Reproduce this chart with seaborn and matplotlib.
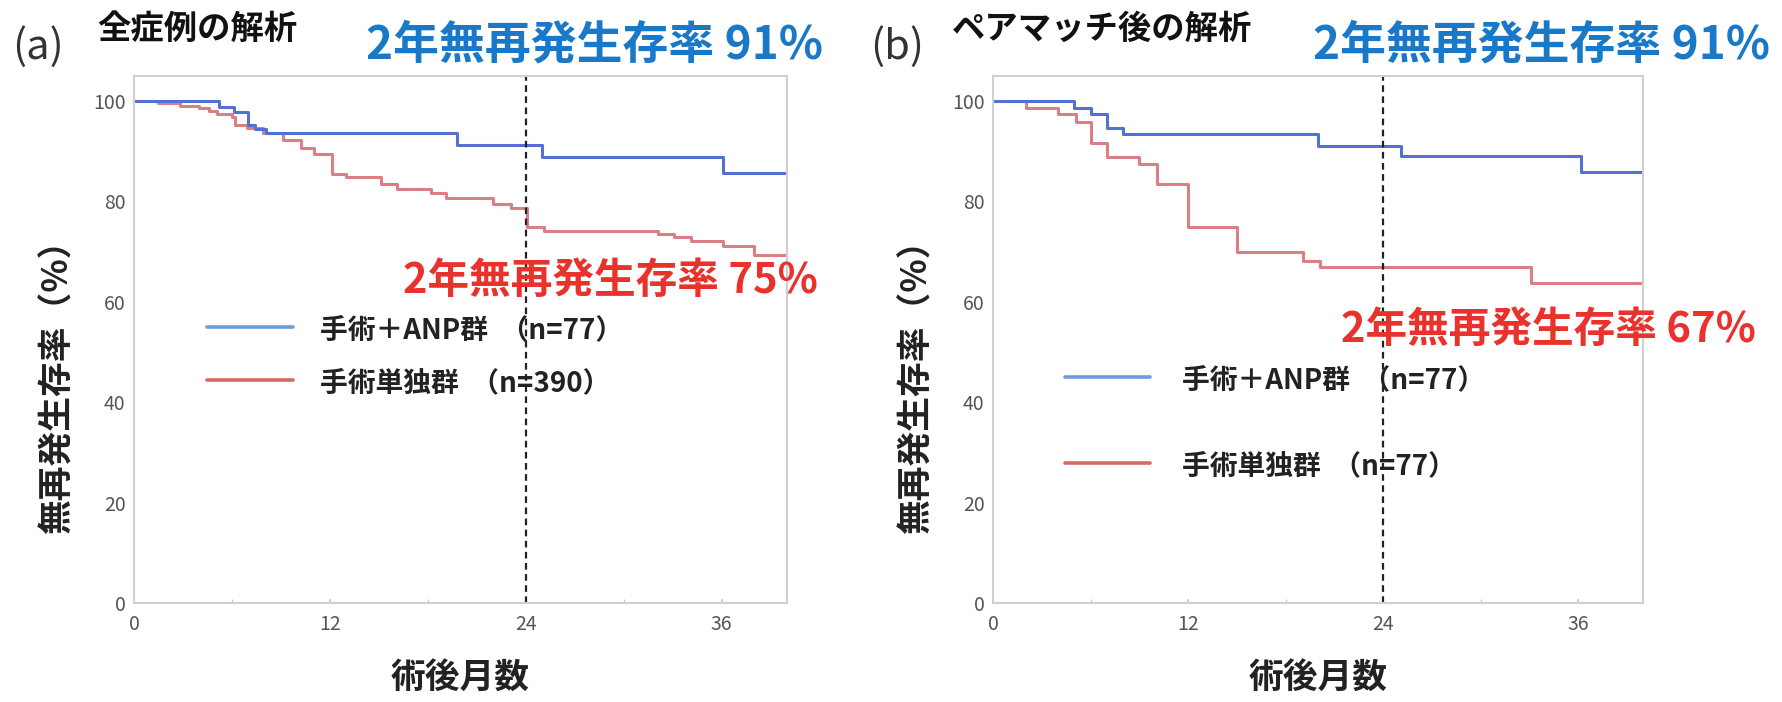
import matplotlib
matplotlib.use("Agg")
import matplotlib.pyplot as plt
import seaborn as sns
import pandas as pd

# Kaplan-Meier step data (months after surgery, relapse-free survival %)
t_a_anp = [0, 5.2, 6.1, 7.0, 7.4, 8.1, 19.8, 25.0, 36.1, 40]
s_a_anp = [100, 98.8, 97.8, 95.3, 94.5, 93.6, 91.2, 88.9, 85.7, 85.7]

t_a_ctl = [0, 1.5, 2.8, 4.0, 4.6, 5.1, 6.0, 6.2, 6.9, 7.9, 9.1, 10.2, 11.0, 12.1,
           13.0, 15.1, 16.1, 18.2, 19.1, 22.0, 23.1, 24.05, 25.1, 32.1, 33.1,
           34.1, 36.1, 38.0, 40]
s_a_ctl = [100, 99.6, 99.0, 98.6, 98.0, 97.4, 96.8, 95.3, 94.6, 93.6, 92.3, 90.6,
           89.5, 85.5, 84.8, 83.5, 82.5, 81.6, 80.7, 79.5, 78.7, 75.0, 74.2, 73.6,
           73.0, 72.1, 71.2, 69.3, 69.3]

t_b_anp = [0, 5.0, 6.0, 7.0, 8.0, 20.0, 25.1, 36.2, 40]
s_b_anp = [100, 98.7, 97.4, 94.6, 93.4, 91.0, 89.1, 85.9, 85.9]

t_b_ctl = [0, 2.0, 4.0, 5.1, 6.0, 7.0, 9.0, 10.1, 12.0, 15.0, 19.1, 20.1, 33.1, 40]
s_b_ctl = [100, 98.7, 97.4, 95.8, 91.6, 88.9, 87.5, 83.5, 75.0, 70.0, 68.2, 67.0,
           63.8, 63.8]

x_ticks = [0, 12, 24, 36]
y_ticks = [0, 20, 40, 60, 80, 100]

panel_tags = ["(a)", "(b)"]
panel_titles = ["全症例の解析", "ペアマッチ後の解析"]
anp_rate = "2年無再発生存率 91%"
ctl_rates = ["2年無再発生存率 75%", "2年無再発生存率 67%"]
anp_labels = ["手術＋ANP群  （n=77）", "手術＋ANP群  （n=77）"]
ctl_labels = ["手術単独群  （n=390）", "手術単独群  （n=77）"]
y_label = "無再発生存率（%）"
x_label = "術後月数"

sns.set_theme(style="white")
plt.rcParams["font.family"] = ["Noto Sans CJK JP", "DejaVu Sans"]

W, H = 1782, 702
fig = plt.figure(figsize=(W / 100, H / 100), dpi=100)


def fx(px):
    return px / W


def fy(py):
    return 1 - py / H


BLUE_LINE = "#5470d4"
RED_LINE = "#da7f84"
BLUE_TEXT = "#1a78c8"
RED_TEXT = "#e8322b"

panels = [
    dict(left=134, right=787, anp=(t_a_anp, s_a_anp), ctl=(t_a_ctl, s_a_ctl),
         tag_x=12, title_x=97, rate_x=366, ctl_rate=(403, 281),
         leg_x=(207, 293, 320), leg_y=(330, 383), ylab_x=57),
    dict(left=993, right=1643, anp=(t_b_anp, s_b_anp), ctl=(t_b_ctl, s_b_ctl),
         tag_x=870, title_x=952, rate_x=1313, ctl_rate=(1341, 330),
         leg_x=(1065, 1150, 1182), leg_y=(380, 466), ylab_x=916),
]

top, bottom = 76, 603

for i, p in enumerate(panels):
    ax = fig.add_axes([fx(p["left"]), fy(bottom), fx(p["right"] - p["left"]),
                       (bottom - top) / H])
    df_anp = pd.DataFrame({"month": p["anp"][0], "rfs": p["anp"][1]})
    df_ctl = pd.DataFrame({"month": p["ctl"][0], "rfs": p["ctl"][1]})
    sns.lineplot(data=df_ctl, x="month", y="rfs", ax=ax, color=RED_LINE,
                 drawstyle="steps-post", estimator=None, sort=False, linewidth=2.2)
    sns.lineplot(data=df_anp, x="month", y="rfs", ax=ax, color=BLUE_LINE,
                 drawstyle="steps-post", estimator=None, sort=False, linewidth=2.2)
    ax.axvline(24, color="#222222", linestyle=(0, (3, 2)), linewidth=1.6)

    ax.set_xlim(0, 40)
    ax.set_ylim(0, 105)
    ax.set_xticks(x_ticks)
    ax.set_xticks([6, 18, 30], minor=True)
    ax.set_yticks(y_ticks)
    ax.set_xlabel("")
    ax.set_ylabel("")
    ax.tick_params(axis="both", labelsize=14, labelcolor="#555555")
    ax.tick_params(axis="x", which="both", bottom=True, length=3, color="#cccccc",
                   direction="in", pad=8)
    ax.tick_params(axis="y", length=0, pad=6)
    for s in ax.spines.values():
        s.set_color("#d0d0d0")
        s.set_linewidth(1.5)

    # axis titles
    cx = (p["left"] + p["right"]) / 2
    fig.text(fx(cx), fy(678), x_label, fontsize=25, fontweight="bold",
             ha="center", va="center", color="#222222")
    fig.text(fx(p["ylab_x"]), fy(378), y_label, fontsize=25,
             fontweight="bold", rotation=90, ha="center", va="center",
             color="#222222")

    # header
    fig.text(fx(p["tag_x"]), fy(47), panel_tags[i], fontsize=30, ha="left",
             va="center", color="#333333")
    fig.text(fx(p["title_x"]), fy(29), panel_titles[i], fontsize=24,
             fontweight="bold", ha="left", va="center", color="#111111")
    fig.text(fx(p["rate_x"]), fy(45), anp_rate, fontsize=33, fontweight="bold",
             ha="left", va="center", color=BLUE_TEXT)

    # control-group rate annotation
    fig.text(fx(p["ctl_rate"][0]), fy(p["ctl_rate"][1]), ctl_rates[i], fontsize=30,
             fontweight="bold", ha="left", va="center", color=RED_TEXT)

    # legend drawn as lines plus labels
    lx0, lx1, tx = p["leg_x"]
    for yy, col, lab in [(p["leg_y"][0], "#6c9be0", anp_labels[i]),
                         (p["leg_y"][1], "#d46a66", ctl_labels[i])]:
        fig.add_artist(plt.Line2D([fx(lx0), fx(lx1)], [fy(yy - 3), fy(yy - 3)],
                                  color=col, linewidth=2.6))
        fig.text(fx(tx), fy(yy), lab, fontsize=20, fontweight="bold",
                 ha="left", va="center", color="#222222")

fig.savefig("out.png", dpi=100, facecolor="white")
